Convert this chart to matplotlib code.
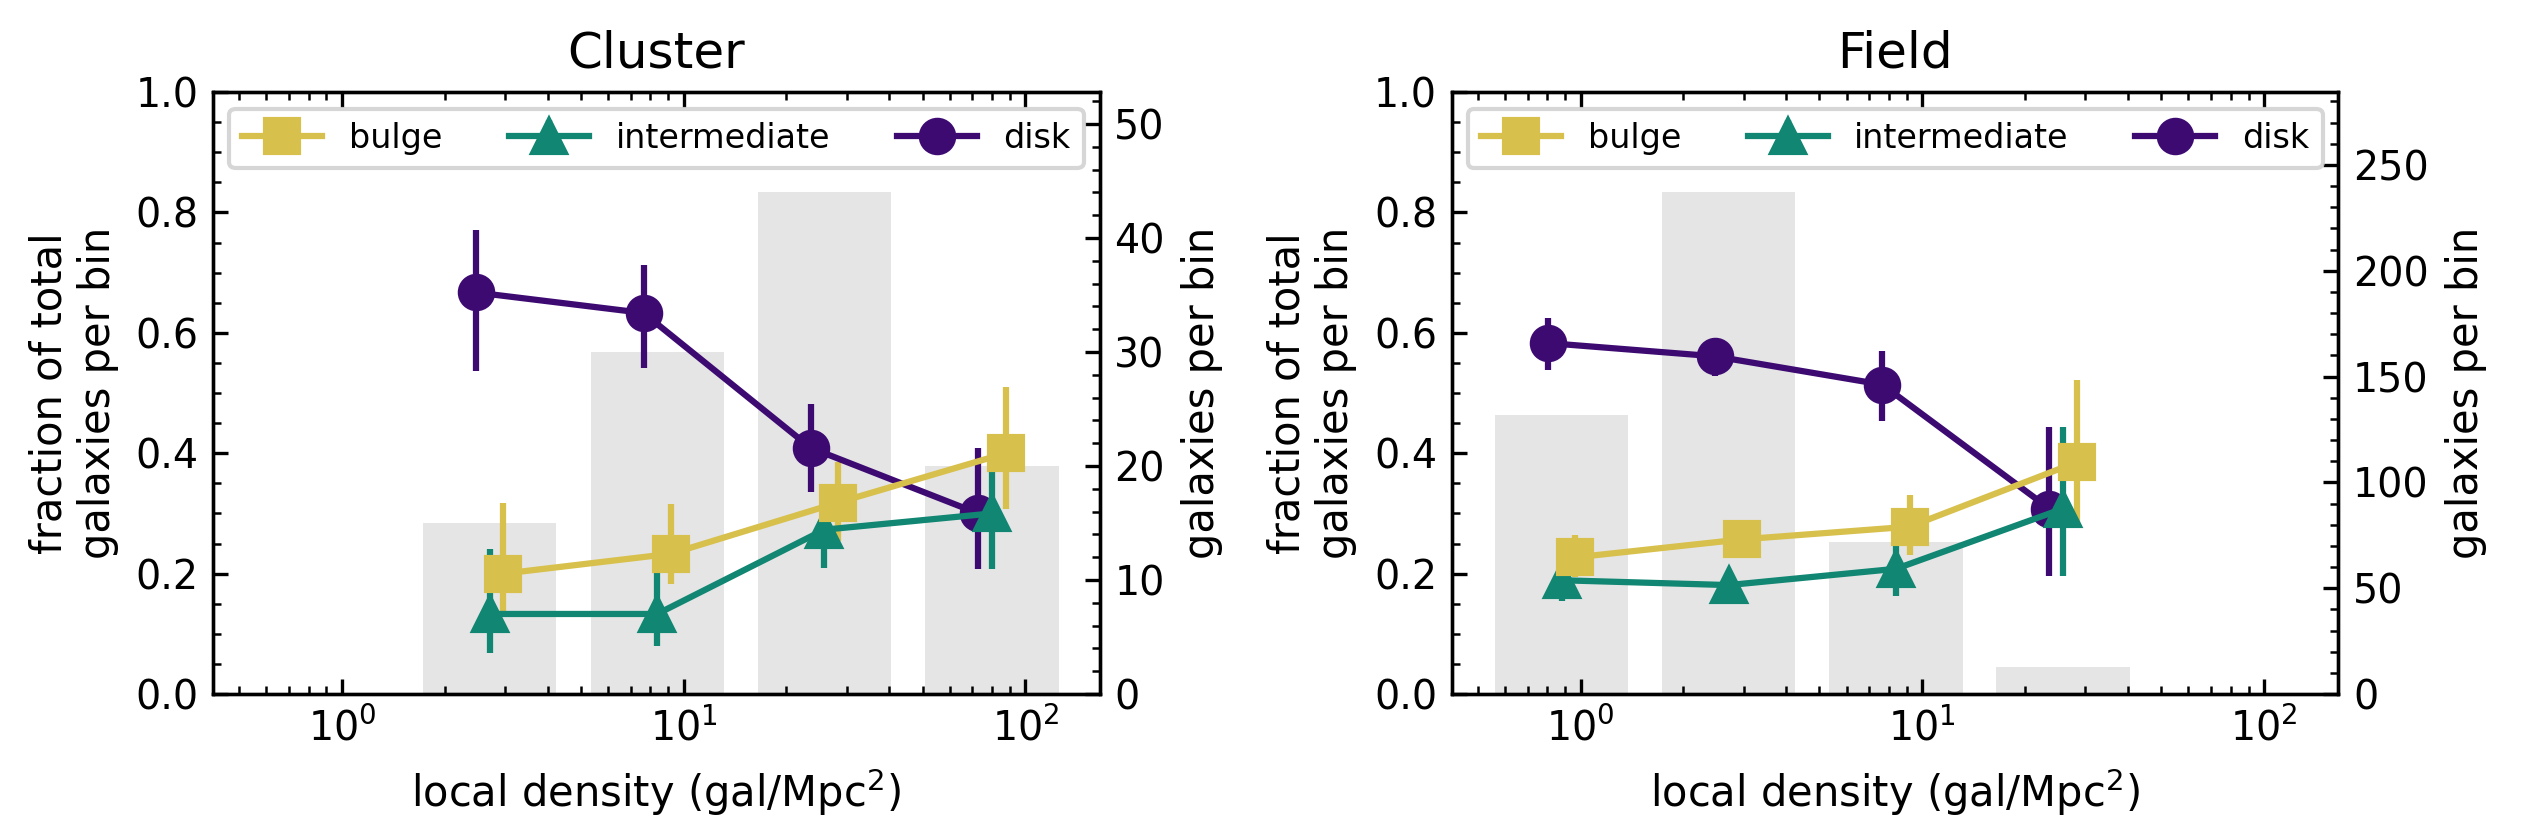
import numpy as np
import matplotlib
matplotlib.use('Agg')
from matplotlib import pyplot as plt
from matplotlib.ticker import AutoMinorLocator, MultipleLocator

# bin centres of local density (gal/Mpc^2)
cluster_dens = [2.71, 8.37, 25.8, 79.8]
field_dens = [0.88, 2.71, 8.37, 25.8]

# galaxies per bin
cluster_counts = [15, 30, 44, 20]
field_counts = [132, 237, 72, 13]

# fractions: value, lower bound, upper bound
cluster_bulge = [0.200, 0.233, 0.318, 0.400]
cluster_bulge_lo = [0.136, 0.182, 0.255, 0.308]
cluster_bulge_hi = [0.318, 0.316, 0.385, 0.510]
cluster_inter = [0.133, 0.133, 0.273, 0.300]
cluster_inter_lo = [0.068, 0.080, 0.210, 0.208]
cluster_inter_hi = [0.241, 0.213, 0.338, 0.408]
cluster_disk = [0.667, 0.633, 0.409, 0.300]
cluster_disk_lo = [0.537, 0.541, 0.336, 0.208]
cluster_disk_hi = [0.771, 0.713, 0.481, 0.408]

field_bulge = [0.227, 0.257, 0.278, 0.385]
field_bulge_lo = [0.194, 0.227, 0.231, 0.275]
field_bulge_hi = [0.264, 0.283, 0.331, 0.521]
field_inter = [0.189, 0.181, 0.208, 0.308]
field_inter_lo = [0.155, 0.160, 0.163, 0.196]
field_inter_hi = [0.222, 0.205, 0.262, 0.443]
field_disk = [0.583, 0.561, 0.514, 0.308]
field_disk_lo = [0.538, 0.528, 0.453, 0.196]
field_disk_hi = [0.624, 0.591, 0.570, 0.443]

c_bulge = '#d8c04c'
c_inter = '#108673'
c_disk = '#3d0a72'

fig = plt.figure(figsize=(2521/300, 829/300), dpi=300)
fig.subplots_adjust(left=0.0845, right=0.9276, bottom=0.1628, top=0.889, wspace=0.397)


def panel(ax, title, dens, counts, bulge, inter, disk, rmajor):
    dens = np.array(dens)
    ax2 = ax.twinx()
    ax.set_zorder(ax2.get_zorder() + 1)
    ax.patch.set_visible(False)

    left = dens * 10**-0.195
    right = dens * 10**0.195
    ax2.bar(left, counts, width=right - left, align='edge', color='#e5e5e5', zorder=1)
    ax2.set_ylim(0, max(counts) * 1.2)
    ax2.yaxis.set_major_locator(MultipleLocator(rmajor))
    ax2.yaxis.set_minor_locator(AutoMinorLocator(5))
    ax2.tick_params(which='both', direction='in', labelsize=9.5)
    ax2.set_ylabel('galaxies per bin', fontsize=10)

    handles = {}
    for name, (f, lo, hi), col, mk, off in [
            ('disk', disk, c_disk, 'o', -0.04),
            ('intermediate', inter, c_inter, '^', 0.0),
            ('bulge', bulge, c_bulge, 's', 0.04)]:
        f = np.array(f)
        yerr = [f - np.array(lo), np.array(hi) - f]
        h = ax.errorbar(dens * 10**off, f, yerr=yerr, color=col, marker=mk,
                        markersize=8, lw=1.5, label=name)
        handles[name] = h

    ax.set_xscale('log')
    ax.set_xlim(0.42, 165)
    ax.set_ylim(0, 1)
    ax.yaxis.set_major_locator(MultipleLocator(0.2))
    ax.yaxis.set_minor_locator(AutoMinorLocator(4))
    ax.tick_params(which='both', direction='in', top=True, right=False, labelsize=9.5)
    ax.set_title(title, fontsize=12)
    ax.set_xlabel('local density (gal/Mpc$^2$)', fontsize=10)
    ax.set_ylabel('fraction of total\ngalaxies per bin', fontsize=10)
    ax.legend([handles['bulge'], handles['intermediate'], handles['disk']],
              ['bulge', 'intermediate', 'disk'], loc='upper center', ncol=3,
              fontsize=8, handlelength=2.4)


ax1 = fig.add_subplot(1, 2, 1)
panel(ax1, 'Cluster', cluster_dens, cluster_counts,
      (cluster_bulge, cluster_bulge_lo, cluster_bulge_hi),
      (cluster_inter, cluster_inter_lo, cluster_inter_hi),
      (cluster_disk, cluster_disk_lo, cluster_disk_hi), 10)

ax3 = fig.add_subplot(1, 2, 2)
panel(ax3, 'Field', field_dens, field_counts,
      (field_bulge, field_bulge_lo, field_bulge_hi),
      (field_inter, field_inter_lo, field_inter_hi),
      (field_disk, field_disk_lo, field_disk_hi), 50)

plt.savefig('out.png', dpi=300)
